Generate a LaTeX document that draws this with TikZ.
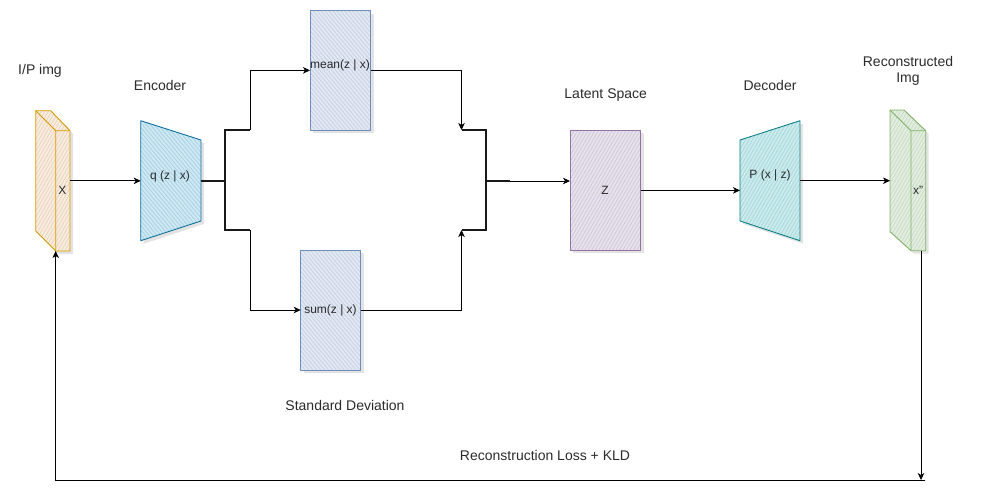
\documentclass[tikz,border=0pt]{standalone}
\usepackage{fontspec}
\setmainfont{Liberation Sans}
\usetikzlibrary{calc,arrows.meta,patterns.meta,shadows}
\definecolor{txt}{HTML}{2B2B2B}
\definecolor{orS}{HTML}{D79B00}\definecolor{orB}{HTML}{F7EDE3}\definecolor{orL}{HTML}{EDD3B6}
\definecolor{blS}{HTML}{10739E}\definecolor{blB}{HTML}{CFE8F2}\definecolor{blL}{HTML}{A6D2E6}
\definecolor{gbS}{HTML}{6C8EBF}\definecolor{gbB}{HTML}{E3E8F1}\definecolor{gbL}{HTML}{C4D1E6}
\definecolor{puS}{HTML}{9673A6}\definecolor{puB}{HTML}{E7E3EB}\definecolor{puL}{HTML}{D1C6DA}
\definecolor{teS}{HTML}{0E8088}\definecolor{teB}{HTML}{CDEBEC}\definecolor{teL}{HTML}{A5D8DB}
\definecolor{grS}{HTML}{82B366}\definecolor{grB}{HTML}{E4EDE2}\definecolor{grL}{HTML}{C6DDC2}
\tikzset{
  hatch/.style n args={4}{draw=#1, line width=0.9pt, line join=round,
    drop shadow={shadow xshift=3pt, shadow yshift=-3pt, opacity=0.22, fill=gray},
    preaction={fill=#2},
    pattern={Lines[angle=#4,distance=3pt,line width=0.8pt]}, pattern color=#3},
  edgeline/.style={draw=#1, line width=0.9pt, line join=round},
  frame/.style={inner sep=0pt, outer sep=0pt},
  lbl/.style={font=\fontsize{14}{16.6}\selectfont, text=txt, inner sep=0pt},
  inlbl/.style={font=\fontsize{12}{14}\selectfont, text=txt, inner sep=0pt},
  conn/.style={line width=0.8pt, -{Stealth[length=7pt,width=6.5pt,inset=2pt]}},
  brk/.style={line width=1.8pt, line join=miter, draw=black!90},
}
\begin{document}
\begin{tikzpicture}[x=1pt,y=-1pt]
\useasboundingbox (0,0) rectangle (1008,501);

% frames
\node[frame, minimum width=34.3pt, minimum height=140.3pt] (ip) at (52.85,180.85) {};
\node[frame, minimum width=60.3pt, minimum height=120pt] (enc) at (170.85,180.7) {};
\node[frame, minimum width=60pt, minimum height=120pt] (dec) at (770,180.7) {};
\node[frame, minimum width=35.7pt, minimum height=140.7pt] (rc) at (907.85,180.35) {};

% I/P image cube
\draw[hatch={orS}{orB}{orL}{60}] (ip.north west) -- ++(15,0) -- ($(ip.north east)+(0,20)$) -- (ip.south east)
  -- ($(ip.south west)+(20,0)$) -- ($(ip.south west)+(0,-20)$) -- cycle;
\draw[edgeline=orS] (ip.north west) -- ($(ip.north west)+(20,20)$) -- ($(ip.north east)+(0,20)$)
  ($(ip.north west)+(20,20)$) -- ($(ip.south west)+(20,0)$);

% encoder
\draw[hatch={blS}{blB}{blL}{-50}] (enc.north west) -- ($(enc.north east)+(0,19.3)$) -- ($(enc.south east)+(0,-19.7)$)
  -- (enc.south west) -- cycle;

% mean / sum / latent boxes
\node[frame, hatch={gbS}{gbB}{gbL}{-50}, minimum width=60.7pt, minimum height=119.3pt] (mean) at (340.35,70.35) {};
\node[frame, hatch={gbS}{gbB}{gbL}{-50}, minimum width=60pt, minimum height=120pt] (sum) at (330.7,310) {};
\node[frame, hatch={puS}{puB}{puL}{60}, minimum width=70.5pt, minimum height=120pt] (lat) at (605.25,190.4) {};

% decoder
\draw[hatch={teS}{teB}{teL}{60}] (dec.north east) -- (dec.south east) -- ($(dec.south west)+(0,-19.7)$)
  -- ($(dec.north west)+(0,19.3)$) -- cycle;

% reconstructed cube
\draw[hatch={grS}{grB}{grL}{60}] (rc.north west) -- ++(14,0) -- ($(rc.north east)+(0,20.7)$) -- (rc.south east)
  -- ($(rc.south west)+(21,0)$) -- ($(rc.south west)+(0,-19)$) -- cycle;
\draw[edgeline=grS] (rc.north west) -- ($(rc.north west)+(21,20.7)$) -- ($(rc.north east)+(0,20.7)$)
  ($(rc.north west)+(21,20.7)$) -- ($(rc.south west)+(21,0)$);

% brackets
\coordinate (lbT) at (250,130);
\coordinate (lbB) at (250,230);
\coordinate (lbC) at (225,180.7);
\coordinate (rbT) at (461.5,130);
\coordinate (rbB) at (461.5,230);
\coordinate (rbC) at (486,181);
\coordinate (rbM) at (510,181);
\draw[brk] (lbT) -- (lbT -| lbC) -- (lbB -| lbC) -- (lbB);
\draw[brk] (lbC) -- (enc.east);
\draw[brk] (rbT) -- (rbT -| rbC) -- (rbB -| rbC) -- (rbB);
\draw[brk] (rbC) -- (rbM);

% connectors
\draw[conn] (ip.east) -- (ip.east -| enc.west);
\draw[conn] (lbT) |- (mean.west);
\draw[conn] (lbB) |- (sum.west);
\draw[conn] (mean.east) -| (rbT);
\draw[conn] (sum.east) -| (rbB);
\draw[conn] (rbM) -- (rbM -| lat.west);
\draw[conn] (lat.east) -- (lat.east -| dec.west);
\draw[conn] (dec.east) -- (dec.east -| rc.west);

% feedback loop
\coordinate (fbR) at (921,480);
\coordinate (fbL) at (55.7,480);
\draw[conn] (rc.south -| fbR) -- (fbR);
\draw[conn] ($(fbR)+(4,0)$) -- (fbL) -- (ip.south -| fbL);

% labels
\node[lbl] (ipT) at (40,70.7) {I/P img};
\node[lbl] (encT) at (160,85) {Encoder};
\node[lbl] (latT) at (605.7,95) {Latent Space};
\node[lbl] (decT) at (770,85) {Decoder};
\node[lbl, align=center] (rcT) at (908,71) {Reconstructed\\Img};
\node[lbl] (sdT) at (345,405) {Standard Deviation};
\node[lbl] (lossT) at (545,455) {Reconstruction Loss + KLD};

\node[inlbl] (xL) at (62.5,190) {X};
\node[inlbl] (qL) at (170,176) {q (z | x)};
\node[inlbl] (meanL) at (340,65.5) {mean(z | x)};
\node[inlbl] (sumL) at (330.5,310) {sum(z | x)};
\node[inlbl] (zL) at (605,190.7) {Z};
\node[inlbl] (pL) at (770,175.5) {P (x | z)};
\node[inlbl] (xpL) at (918,190.7) {x"};
\end{tikzpicture}
\end{document}
